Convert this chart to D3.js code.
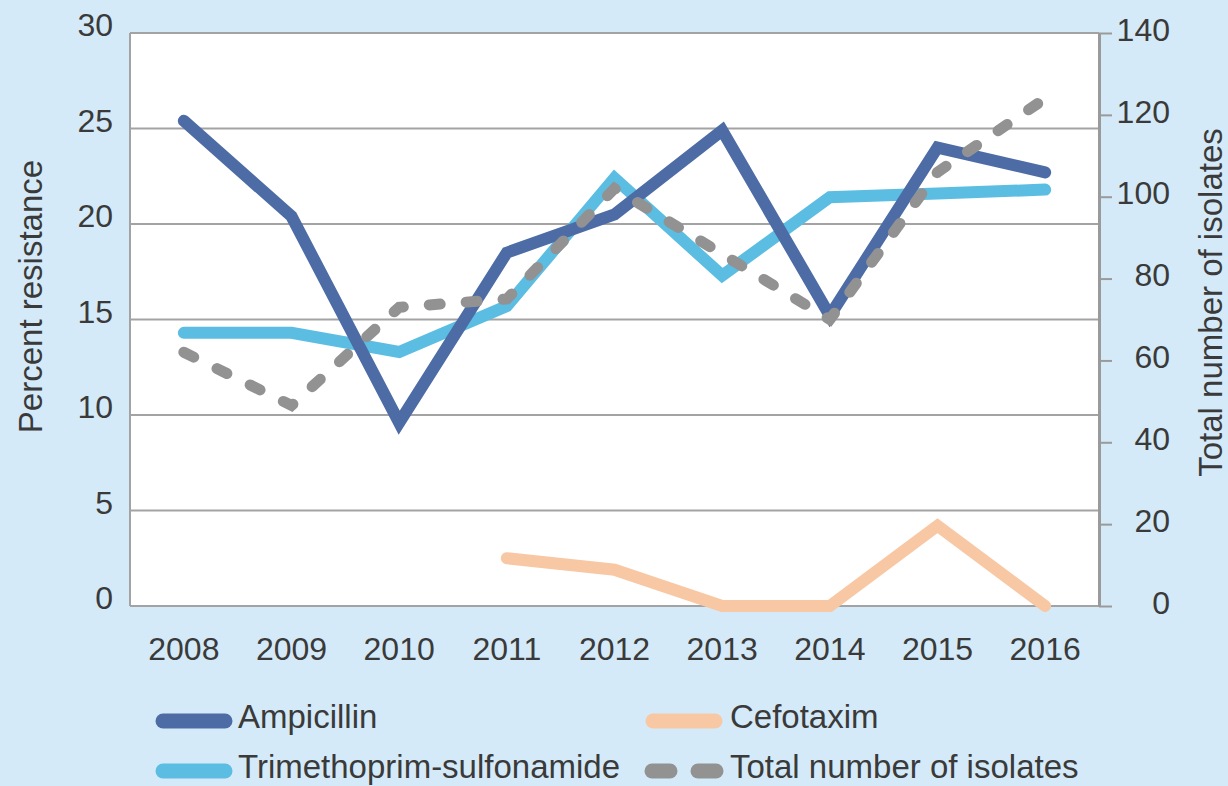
<!DOCTYPE html>
<meta charset="utf-8">
<style>
  body { margin: 0; background: #d5eaf8; }
  svg { display: block; font-family: "Liberation Sans", Arial, sans-serif; }
  .lbl { fill: #3a3a3a; }
</style>
<body>
<svg id="chart" width="1228" height="786"></svg>
<script src="https://d3js.org/d3.v7.min.js"></script>
<script>
  // values
  var years = [2008, 2009, 2010, 2011, 2012, 2013, 2014, 2015, 2016];
  var ampicillin = [25.4, 20.4, 9.6, 18.5, 20.5, 24.9, 15.2, 24.0, 22.7];
  var trimethoprim = [14.3, 14.3, 13.3, 15.7, 22.4, 17.3, 21.4, 21.6, 21.8];
  var cefotaxim = [null, null, null, 2.5, 1.9, 0, 0, 4.2, 0];
  var isolates = [62, 49, 73, 75, 102, 86, 70, 106, 124];
  var leftTicks = [0, 5, 10, 15, 20, 25, 30];
  var rightTicks = [0, 20, 40, 60, 80, 100, 120, 140];

  var plot = { left: 130, right: 1099, top: 33, bottom: 606 };

  var svg = d3.select("#chart");
  svg.append("rect").attr("width", 1228).attr("height", 786).attr("fill", "#d5eaf8");

  var x = d3.scalePoint().domain(years).range([plot.left, plot.right]).padding(0.5);
  var yL = d3.scaleLinear().domain([0, 30]).range([plot.bottom, plot.top]);
  var yR = d3.scaleLinear().domain([0, 140]).range([plot.bottom, plot.top]);

  // plot background
  svg.append("rect")
    .attr("x", plot.left).attr("y", plot.top)
    .attr("width", plot.right - plot.left).attr("height", plot.bottom - plot.top)
    .attr("fill", "#fff");

  // gridlines
  svg.append("g").selectAll("line")
    .data(leftTicks)
    .enter().append("line")
    .attr("x1", plot.left).attr("x2", plot.right)
    .attr("y1", function(d) { return yL(d); })
    .attr("y2", function(d) { return yL(d); })
    .attr("stroke", "#a3a3a3").attr("stroke-width", 2);

  svg.append("line")
    .attr("x1", plot.left).attr("x2", plot.left)
    .attr("y1", plot.top).attr("y2", plot.bottom)
    .attr("stroke", "#a3a3a3").attr("stroke-width", 2);

  // left tick labels
  svg.append("g").selectAll("text")
    .data(leftTicks)
    .enter().append("text")
    .attr("class", "lbl")
    .attr("x", 113)
    .attr("y", function(d) { return yL(d) - 8; })
    .attr("dy", "0.35em")
    .attr("text-anchor", "end")
    .style("font-size", "32px")
    .text(function(d) { return d; });

  // right axis
  var rAxis = svg.append("g")
    .attr("transform", "translate(" + plot.right + ",0)")
    .call(d3.axisRight(yR).tickValues(rightTicks).tickSize(13).tickSizeOuter(0));
  rAxis.select(".domain").attr("stroke", "#9a9a9a").attr("stroke-width", 3);
  rAxis.selectAll(".tick line").attr("stroke", "#9a9a9a").attr("stroke-width", 2);
  rAxis.selectAll(".tick text")
    .attr("class", "lbl")
    .attr("x", 71)
    .attr("y", -3)
    .attr("text-anchor", "end")
    .style("font-size", "32px")
    .style("font-family", "Liberation Sans, Arial, sans-serif");

  // x labels
  svg.append("g").selectAll("text")
    .data(years)
    .enter().append("text")
    .attr("class", "lbl")
    .attr("x", function(d) { return x(d); })
    .attr("y", 660)
    .attr("text-anchor", "middle")
    .style("font-size", "32px")
    .text(function(d) { return d; });

  // axis titles
  svg.append("text")
    .attr("class", "lbl")
    .attr("transform", "translate(42," + ((plot.top + plot.bottom) / 2 - 23) + ") rotate(-90)")
    .attr("text-anchor", "middle")
    .style("font-size", "33px")
    .text("Percent resistance");

  svg.append("text")
    .attr("class", "lbl")
    .attr("transform", "translate(1222," + ((plot.top + plot.bottom) / 2 - 17) + ") rotate(-90)")
    .attr("text-anchor", "middle")
    .style("font-size", "33px")
    .text("Total number of isolates");

  // series
  function lineFor(scale) {
    return d3.line()
      .defined(function(d) { return d.v != null; })
      .x(function(d) { return x(d.year); })
      .y(function(d) { return scale(d.v); });
  }
  function pairs(values) {
    return years.map(function(y, i) { return { year: y, v: values[i] }; });
  }

  var series = [
    { name: "Trimethoprim-sulfonamide", values: trimethoprim, scale: yL, color: "#5cbde3", dash: null },
    { name: "Ampicillin", values: ampicillin, scale: yL, color: "#4d6ca5", dash: null },
    { name: "Cefotaxim", values: cefotaxim, scale: yL, color: "#f8c8a4", dash: null },
    { name: "Total number of isolates", values: isolates, scale: yR, color: "#929292", dash: "11,26" }
  ];

  series.forEach(function(s) {
    svg.append("path")
      .datum(pairs(s.values))
      .attr("d", lineFor(s.scale))
      .attr("fill", "none")
      .attr("stroke", s.color)
      .attr("stroke-width", s.dash ? 11 : 12)
      .attr("stroke-linecap", "round")
      .attr("stroke-linejoin", "miter")
      .attr("stroke-dasharray", s.dash);
  });

  // legend
  var legendItems = [
    { name: "Ampicillin", color: "#4d6ca5", dashed: false, col: 0, row: 0 },
    { name: "Cefotaxim", color: "#f8c8a4", dashed: false, col: 1, row: 0 },
    { name: "Trimethoprim-sulfonamide", color: "#5cbde3", dashed: false, col: 0, row: 1 },
    { name: "Total number of isolates", color: "#929292", dashed: true, col: 1, row: 1 }
  ];
  var colX = [158, 648], rowY = [721, 771];

  var leg = svg.append("g").selectAll("g")
    .data(legendItems)
    .enter().append("g")
    .attr("transform", function(d) { return "translate(" + colX[d.col] + "," + rowY[d.row] + ")"; });

  leg.each(function(d) {
    var g = d3.select(this);
    var segs = d.dashed ? [[4, 22], [50, 68]] : [[5, 67]];
    segs.forEach(function(s) {
      g.append("line")
        .attr("x1", s[0]).attr("x2", s[1])
        .attr("y1", 0).attr("y2", 0)
        .attr("stroke", d.color)
        .attr("stroke-width", 15)
        .attr("stroke-linecap", "round");
    });
    g.append("text")
      .attr("class", "lbl")
      .attr("x", d.col ? 82 : 80)
      .attr("y", 7)
      .style("font-size", "33px")
      .text(d.name);
  });
</script>
</body>
